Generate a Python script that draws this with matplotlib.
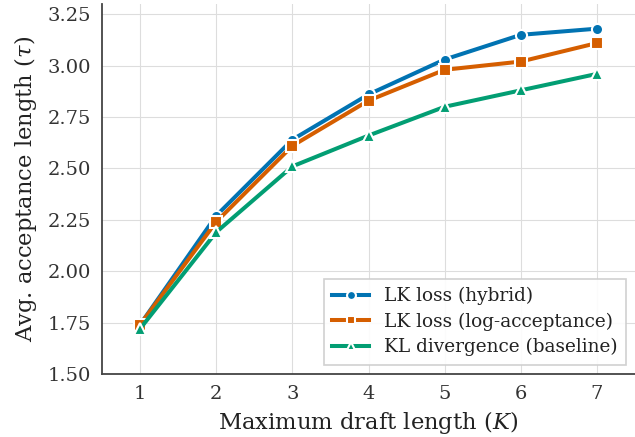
import matplotlib
matplotlib.use("Agg")
import matplotlib.pyplot as plt

K = [1, 2, 3, 4, 5, 6, 7]
hybrid = [1.74, 2.27, 2.64, 2.86, 3.03, 3.15, 3.18]
log_acc = [1.74, 2.24, 2.61, 2.83, 2.98, 3.02, 3.11]
kl_base = [1.72, 2.19, 2.51, 2.66, 2.80, 2.88, 2.96]
labels = ["LK loss (hybrid)", "LK loss (log-acceptance)", "KL divergence (baseline)"]
yticks = [1.50, 1.75, 2.00, 2.25, 2.50, 2.75, 3.00, 3.25]

plt.rcParams['font.family'] = ['DejaVu Serif']
plt.rcParams['mathtext.fontset'] = 'dejavuserif'

fig = plt.figure(figsize=(6.35, 4.37), dpi=100)
ax = fig.add_axes([102/635, (437-374)/437, 1 - 102/635, (374-4)/437])

colors = ["#0173B2", "#D55E00", "#029E73"]
markers = ["o", "s", "^"]
for ys, c, m, lab in zip([hybrid, log_acc, kl_base], colors, markers, labels):
    ax.plot(K, ys, color=c, marker=m, lw=2.9, ms=8, mec="white", mew=1.5, label=lab)

ax.set_xlim(0.5, 7.5)
ax.set_ylim(1.5, 3.3)
ax.set_xticks(K)
ax.set_yticks(yticks)
ax.set_yticklabels([f"{v:.2f}" for v in yticks])
ax.grid(True, color="#dddddd", lw=0.8)
ax.set_axisbelow(True)
for s in ["top", "right"]:
    ax.spines[s].set_visible(False)
for s in ["left", "bottom"]:
    ax.spines[s].set_color("#444444")
    ax.spines[s].set_linewidth(1.3)
ax.tick_params(axis="both", labelsize=14, colors="#333333", length=0, pad=8)
ax.set_xlabel("Maximum draft length ($K$)", fontsize=16.3, color="#222222", labelpad=4)
ax.set_ylabel("Avg. acceptance length ($\\tau$)", fontsize=16.3, color="#222222", labelpad=6)

leg = ax.legend(loc="lower right", bbox_to_anchor=(1.0, 0.0), fontsize=13.3,
                frameon=True, fancybox=False, edgecolor="#cccccc", framealpha=0.9,
                handlelength=2.0, borderpad=0.45, labelspacing=0.4, markerscale=0.8)
leg.get_frame().set_linewidth(1.2)
for t in leg.get_texts():
    t.set_color("#222222")

fig.savefig("out.png", dpi=100)
